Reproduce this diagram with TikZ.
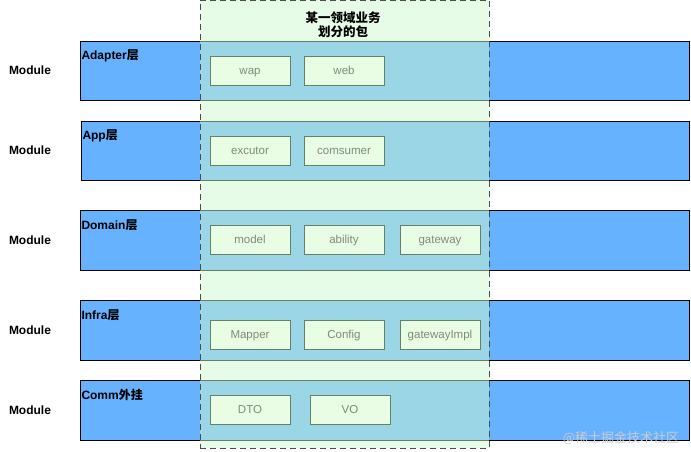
\documentclass[tikz,border=0pt]{standalone}
\usepackage{fontspec}
\setmainfont{Liberation Sans}
\newfontfamily\cjk{Noto Sans CJK SC}
\usepackage{tikz}

\definecolor{layerblue}{RGB}{102,178,255}
\definecolor{areagreen}{RGB}{206,250,206}
\definecolor{pkgfill}{RGB}{232,253,228}
\definecolor{pkgline}{RGB}{100,130,100}
\definecolor{pkgtext}{RGB}{125,140,125}

\begin{document}
\begin{tikzpicture}[x=1pt,y=-1pt,line width=0.8pt,
  layer/.style={draw=black,fill=layerblue,minimum width=609pt,minimum height=59pt,inner sep=0pt},
  area/.style={draw=black!70,dashed,dash pattern=on 6pt off 4pt,fill=areagreen,fill opacity=0.5,
    minimum width=289pt,minimum height=448pt,inner sep=0pt},
  pkg/.style={draw=pkgline,fill=pkgfill,minimum width=80pt,minimum height=29pt,inner sep=0pt,
    text height=9pt,text depth=1.5pt,text=pkgtext,font=\fontsize{11.5}{13}\selectfont},
  tag/.style={font=\bfseries\fontsize{12}{14}\selectfont},
  lname/.style={anchor=west,inner sep=1.5pt,text height=8pt,text depth=2.5pt,
    font=\bfseries\fontsize{12}{14}\selectfont}]
  \useasboundingbox (0,0) rectangle (691,451);

  % layers
  \node[layer] (adapter) at (384.5,70.5) {};
  \node[layer,minimum width=608pt] (app) at (385,150.5) {};
  \node[layer,minimum height=60pt] (domain) at (384.5,240) {};
  \node[layer,minimum height=60pt] (infra) at (384.5,330) {};
  \node[layer,minimum height=60pt] (comm) at (384.5,410) {};

  \node[lname] (adapterlbl) at ([yshift=-16pt]adapter.north west) {Adapter{\cjk\bfseries 层}};
  \node[lname] (applbl) at ([yshift=-16pt]app.north west) {App{\cjk\bfseries 层}};
  \node[lname] (domainlbl) at ([yshift=-17pt]domain.north west) {Domain{\cjk\bfseries 层}};
  \node[lname] (infralbl) at ([yshift=-17pt]infra.north west) {Infra{\cjk\bfseries 层}};
  \node[lname] (commlbl) at ([yshift=-17pt]comm.north west) {Comm{\cjk\bfseries 外挂}};

  % business area
  \node[area] (pkgarea) at (344.5,224) {};
  \node[align=center,font=\cjk\bfseries\fontsize{12.5}{14}\selectfont] (areatitle) at (343,24.5)
    {某一领域业务\\划分的包};

  % packages
  \node[pkg] (wap) at (250,70.5) {wap};
  \node[pkg] (web) at (344,70.5) {web};
  \node[pkg] (excutor) at (250,150.5) {excutor};
  \node[pkg] (comsumer) at (344,150.5) {comsumer};
  \node[pkg] (model) at (250,240) {model};
  \node[pkg] (ability) at (344,240) {ability};
  \node[pkg] (gateway) at (440,240) {gateway};
  \node[pkg] (mapper) at (250,335) {Mapper};
  \node[pkg] (config) at (344,335) {Config};
  \node[pkg] (gwimpl) at (440,335) {gatewayImpl};
  \node[pkg] (dto) at (250,410) {DTO};
  \node[pkg] (vo) at (350,410) {VO};

  % module tags
  \node[tag] (mod1) at (30,70) {Module};
  \node[tag] (mod2) at (30,150) {Module};
  \node[tag] (mod3) at (30,240) {Module};
  \node[tag] (mod4) at (30,330) {Module};
  \node[tag] (mod5) at (30,410) {Module};

  \node[text=white!80!black,font=\cjk\fontsize{13}{15}\selectfont] (mark) at (621,438) {@稀土掘金技术社区};
\end{tikzpicture}
\end{document}
